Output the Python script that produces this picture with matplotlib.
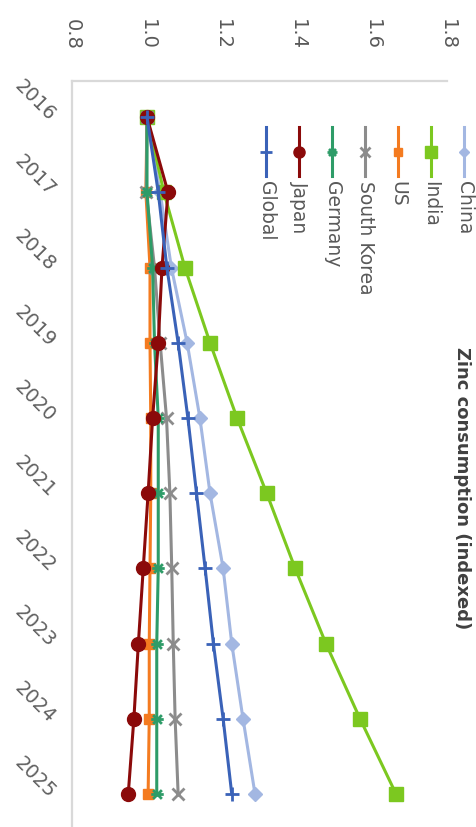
import matplotlib
matplotlib.use('Agg')
import matplotlib.pyplot as plt
from matplotlib.lines import Line2D
from matplotlib.path import Path

years = [2016, 2017, 2018, 2019, 2020, 2021, 2022, 2023, 2024, 2025]
value_ticks = [0.8, 1.0, 1.2, 1.4, 1.6, 1.8]

china = [1.0, 1.035, 1.065, 1.107, 1.141, 1.168, 1.203, 1.226, 1.256, 1.288]
india = [1.0, 1.045, 1.101, 1.168, 1.240, 1.319, 1.395, 1.477, 1.568, 1.664]
us = [1.0, 0.997, 1.008, 1.008, 1.010, 1.010, 1.008, 1.006, 1.006, 1.003]
south_korea = [1.0, 0.998, 1.020, 1.035, 1.052, 1.061, 1.066, 1.070, 1.075, 1.083]
germany = [1.0, 1.0, 1.015, 1.020, 1.030, 1.030, 1.030, 1.026, 1.026, 1.026]
japan = [1.0, 1.056, 1.040, 1.030, 1.015, 1.003, 0.990, 0.977, 0.965, 0.950]
global_ = [1.0, 1.030, 1.053, 1.083, 1.109, 1.132, 1.155, 1.177, 1.203, 1.226]

names = ['China', 'India', 'US', 'South Korea', 'Germany', 'Japan', 'Global']

# excel-like star: x plus a bar (chart is turned 90 degrees, so the bar lies flat)
star = Path([(-1, 0), (1, 0), (-0.7, -0.7), (0.7, 0.7), (-0.7, 0.7), (0.7, -0.7)],
            [Path.MOVETO, Path.LINETO] * 3)

styles = [
    dict(color='#a3b7e2', marker='D', ms=7, mew=1),
    dict(color='#7cc820', marker='s', ms=10, mew=1),
    dict(color='#f47b20', marker='s', ms=7, mew=1),
    dict(color='#8c8c8c', marker='x', ms=9, mew=2),
    dict(color='#2e9c68', marker=star, ms=9, mew=2),
    dict(color='#8b0a0a', marker='o', ms=10, mew=1),
    dict(color='#3a62b8', marker='+', ms=10, mew=2),
]
series = [china, india, us, south_korea, germany, japan, global_]

W, H = 476, 828
fig = plt.figure(figsize=(W / 100, H / 100), dpi=100)
ax = fig.add_axes([72 / W, 0, 375 / W, 746 / H])

for vals, st in zip(series, styles):
    ax.plot(vals, years, lw=2.2, color=st['color'], marker=st['marker'],
            ms=st['ms'], mew=st['mew'], mec=st['color'], mfc=st['color'],
            clip_on=False)

ax.set_xlim(0.8, 1.8)
ax.set_ylim(2025.44, 2015.52)
ax.xaxis.tick_top()
ax.set_xticks(value_ticks)
ax.set_xticklabels([f'{v:.1f}' for v in value_ticks])
ax.tick_params(axis='x', length=0, pad=23, labelrotation=-90, labelsize=14,
               labelcolor='#595959')
ax.set_yticks(years)
ax.set_yticklabels([str(y) for y in years], rotation=-45, ha='right',
                   va='center', rotation_mode='anchor')
ax.tick_params(axis='y', length=0, pad=14, labelsize=14, labelcolor='#606060')

for s in ['right', 'bottom']:
    ax.spines[s].set_visible(False)
for s in ['top', 'left']:
    ax.spines[s].set_color('#d9d9d9')
    ax.spines[s].set_linewidth(1.6)

# legend drawn by hand, turned with the chart
for i, (name, st) in enumerate(zip(names, styles)):
    x = (464 - 33 * i) / W
    y1, y2, ym = 1 - 128 / H, 1 - 177 / H, 1 - 152.5 / H
    fig.add_artist(Line2D([x, x], [y1, y2], lw=2.2, color=st['color'],
                          transform=fig.transFigure))
    fig.add_artist(Line2D([x], [ym], marker=st['marker'], ms=st['ms'] * 0.8,
                          mew=st['mew'], color=st['color'],
                          transform=fig.transFigure))
    fig.text(x, 1 - 181 / H, name, rotation=-90, ha='center', va='top',
             fontsize=13.5, color='#595959')

fig.text(462 / W, 1 - 488 / H, 'Zinc consumption (indexed)', rotation=-90,
         ha='center', va='center', fontsize=13, fontweight='bold',
         color='#404040')

fig.savefig('out.png', dpi=100, facecolor='white')
